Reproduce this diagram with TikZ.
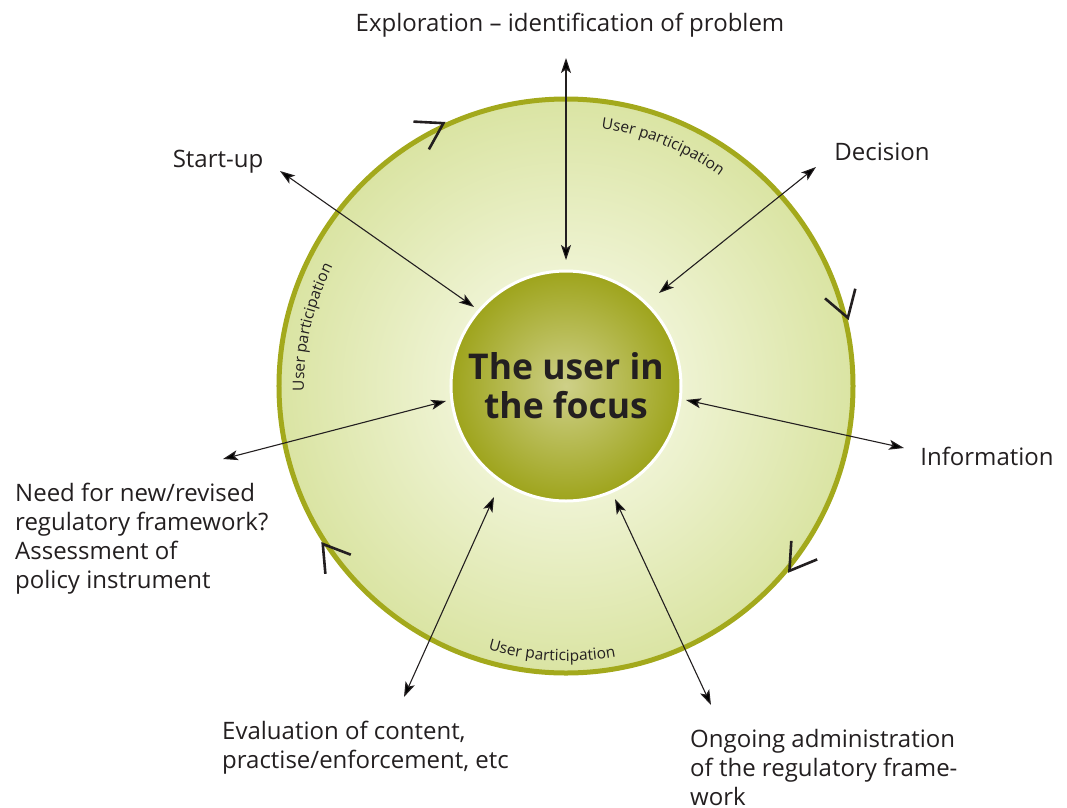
\documentclass[tikz,border=0pt]{standalone}
\usepackage{fontspec}
\setmainfont{Open Sans}
\usetikzlibrary{arrows.meta,decorations.text}
\definecolor{rim}{RGB}{163,169,28}
\definecolor{fillout}{RGB}{218,228,163}
\definecolor{fillin}{RGB}{252,253,242}
\definecolor{focusedge}{RGB}{158,164,28}
\definecolor{focuscenter}{RGB}{206,208,136}
\definecolor{ink}{RGB}{35,31,32}
\newcommand\upfont{\fontsize{15.5}{17}\selectfont}
\begin{document}
\begin{tikzpicture}[x=1pt,y=1pt,
  dbl/.style={{Stealth[length=15pt,width=10pt,inset=3.5pt]}-{Stealth[length=15pt,width=10pt,inset=3.5pt]}, line width=1.1pt, draw=ink},
  lbl/.style={font=\fontsize{24}{29}\selectfont, text=ink, inner sep=0pt},
  chev/.style={line width=2.6pt, draw=ink},
  partic/.style={decorate, decoration={text along path, text={|\upfont|User participation}, text align=center, text color=ink}}]
\useasboundingbox (-566,-421) rectangle (501,386);

\node (outer) [circle, minimum size=574pt, inner sep=0pt, draw=rim, line width=5pt, inner color=fillin, outer color=fillout] at (0,0) {};

\foreach \t [count=\i] in {115,13.6,-39.6,213} {
  \coordinate (m\i) at (\t:290pt);
  \draw[chev] ([shift={(\t+62:30pt)}]m\i) -- (m\i) -- ([shift={(\t+126:30pt)}]m\i);
}

\path[partic] (100:260pt) arc[start angle=100, end angle=36, radius=260pt];
\path[partic] (199:262pt) arc[start angle=199, end angle=135, radius=262pt];
\path[partic] (235:275pt) arc[start angle=235, end angle=299, radius=275pt];

\node (focus) [circle, minimum size=230pt, inner sep=0pt, draw=white, line width=3pt, inner color=focuscenter, outer color=focusedge, font=\fontsize{35.5}{39}\selectfont\bfseries, text=ink, align=center] at (0,0) {The user in\\the focus};

\node[lbl, anchor=base] (explo) at (4,355) {Exploration – identification of problem};
\node[lbl, anchor=base] (start) at (-348,219) {Start-up};
\node[lbl, anchor=base] (dec) at (316,226) {Decision};
\node[lbl, anchor=base] (info) at (421,-79) {Information};
\node[lbl, anchor=north west, align=left] (need) at (-551,-97) {Need for new/revised\\regulatory framework?\\Assessment of\\policy instrument};
\node[lbl, anchor=north west, align=left] (eval) at (-344,-335) {Evaluation of content,\\practise/enforcement, etc};
\node[lbl, anchor=north west, align=left] (ongo) at (124,-343) {Ongoing administration\\of the regulatory frame-\\work};

\coordinate (a1o) at (0,328);     \coordinate (a1i) at (0,126);
\coordinate (a2o) at (-286,215);  \coordinate (a2i) at (-92,79);
\coordinate (a3o) at (250,219);   \coordinate (a3i) at (93,93);
\coordinate (a4o) at (338,-62);   \coordinate (a4i) at (120,-14);
\coordinate (a5o) at (-343,-73);  \coordinate (a5i) at (-120,-15);
\coordinate (a6o) at (-162,-311); \coordinate (a6i) at (-72,-111);
\coordinate (a7o) at (145,-319);  \coordinate (a7i) at (49,-113);
\foreach \i in {1,...,7} { \draw[dbl] (a\i o) -- (a\i i); }
\end{tikzpicture}
\end{document}
